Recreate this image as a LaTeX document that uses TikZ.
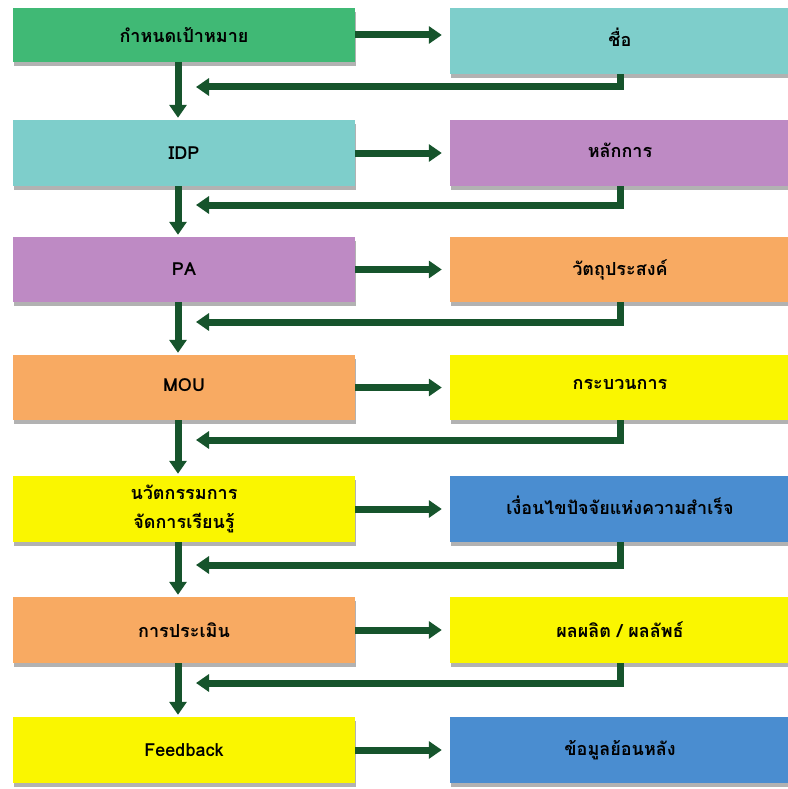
\documentclass[tikz,border=0pt]{standalone}
\usepackage{fontspec}
\newfontfamily\thaifont[Script=Thai]{Loma}
\usetikzlibrary{arrows.meta,shadows}

\definecolor{boxgreen}{RGB}{64,185,117}
\definecolor{boxcyan}{RGB}{126,206,203}
\definecolor{boxpurple}{RGB}{190,138,196}
\definecolor{boxorange}{RGB}{248,170,98}
\definecolor{boxyellow}{RGB}{250,246,0}
\definecolor{boxblue}{RGB}{74,141,208}
\definecolor{arrowgreen}{RGB}{22,84,44}

\tikzset{
  box/.style={minimum width=342pt, minimum height=66pt, inner sep=0pt, align=center,
    font=\thaifont\bfseries\fontsize{18}{29}\selectfont,
    drop shadow={shadow xshift=1pt, shadow yshift=-4pt, opacity=0.3, fill=black}},
  sidebox/.style={box, minimum width=340pt},
  flow/.style={line width=7pt, arrowgreen, -{Triangle[width=17pt,length=13pt]}}
}
\newcommand{\lift}[2]{\raisebox{#1}{#2}}

\begin{document}
\begin{tikzpicture}[x=1pt,y=-1pt]
\useasboundingbox (0,0) rectangle (787,789);

\node [box, fill=boxgreen, minimum height=54pt] (goal) at (184,35) {กำหนดเป้าหมาย};
\node [sidebox, fill=boxcyan] (name) at (620,41) {\lift{8pt}{ชื่อ}};
\node [box, fill=boxcyan] (idp) at (184,153) {IDP};
\node [sidebox, fill=boxpurple] (principle) at (620,153) {\lift{5pt}{หลักการ}};
\node [box, fill=boxpurple, minimum height=65pt] (pa) at (184,269.5) {PA};
\node [sidebox, fill=boxorange, minimum height=65pt] (objective) at (620,269.5) {วัตถุประสงค์};
\node [box, fill=boxorange, minimum height=65pt] (mou) at (184,387.5) {\lift{4pt}{MOU}};
\node [sidebox, fill=boxyellow, minimum height=65pt] (process) at (620,387.5) {\lift{7pt}{กระบวนการ}};
\node [box, fill=boxyellow] (innov) at (184,509) {นวัตกรรมการ\\จัดการเรียนรู้};
\node [sidebox, fill=boxblue] (success) at (620,509) {\lift{7pt}{เงื่อนไขปัจจัยแห่งความสำเร็จ}};
\node [box, fill=boxorange] (eval) at (184,630) {การประเมิน};
\node [sidebox, fill=boxyellow] (output) at (620,630) {ผลผลิต / ผลลัพธ์};
\node [box, fill=boxyellow] (feedback) at (184,750) {Feedback};
\node [sidebox, fill=boxblue] (backinfo) at (620,750) {ข้อมูลย้อนหลัง};

\coordinate (back1) at (196,87);
\coordinate (back2) at (196,205);
\coordinate (back3) at (196,322);
\coordinate (back4) at (196,440);
\coordinate (back5) at (196,565);
\coordinate (back6) at (196,683);

\draw [flow, shorten >=8pt] (goal.east) -- (goal.east -| name.west);
\draw [flow, shorten >=8pt] (idp.east) -- (idp.east -| principle.west);
\draw [flow, shorten >=8pt] (pa.east) -- (pa.east -| objective.west);
\draw [flow, shorten >=8pt] (mou.east) -- (mou.east -| process.west);
\draw [flow, shorten >=8pt] (innov.east) -- (innov.east -| success.west);
\draw [flow, shorten >=8pt] (eval.east) -- (eval.east -| output.west);
\draw [flow, shorten >=8pt] (feedback.east) -- (feedback.east -| backinfo.west);

\draw [flow, shorten >=2pt] ([xshift=-6pt]goal.south) -- ([xshift=-6pt]idp.north);
\draw [flow, shorten >=2pt] ([xshift=-6pt]idp.south) -- ([xshift=-6pt]pa.north);
\draw [flow, shorten >=2pt] ([xshift=-6pt]pa.south) -- ([xshift=-6pt]mou.north);
\draw [flow, shorten >=2pt] ([xshift=-6pt]mou.south) -- ([xshift=-6pt]innov.north);
\draw [flow, shorten >=2pt] ([xshift=-6pt]innov.south) -- ([xshift=-6pt]eval.north);
\draw [flow, shorten >=2pt] ([xshift=-6pt]eval.south) -- ([xshift=-6pt]feedback.north);

\draw [flow] (name.south) |- (back1);
\draw [flow] (principle.south) |- (back2);
\draw [flow] (objective.south) |- (back3);
\draw [flow] (process.south) |- (back4);
\draw [flow] (success.south) |- (back5);
\draw [flow] (output.south) |- (back6);

\end{tikzpicture}
\end{document}
